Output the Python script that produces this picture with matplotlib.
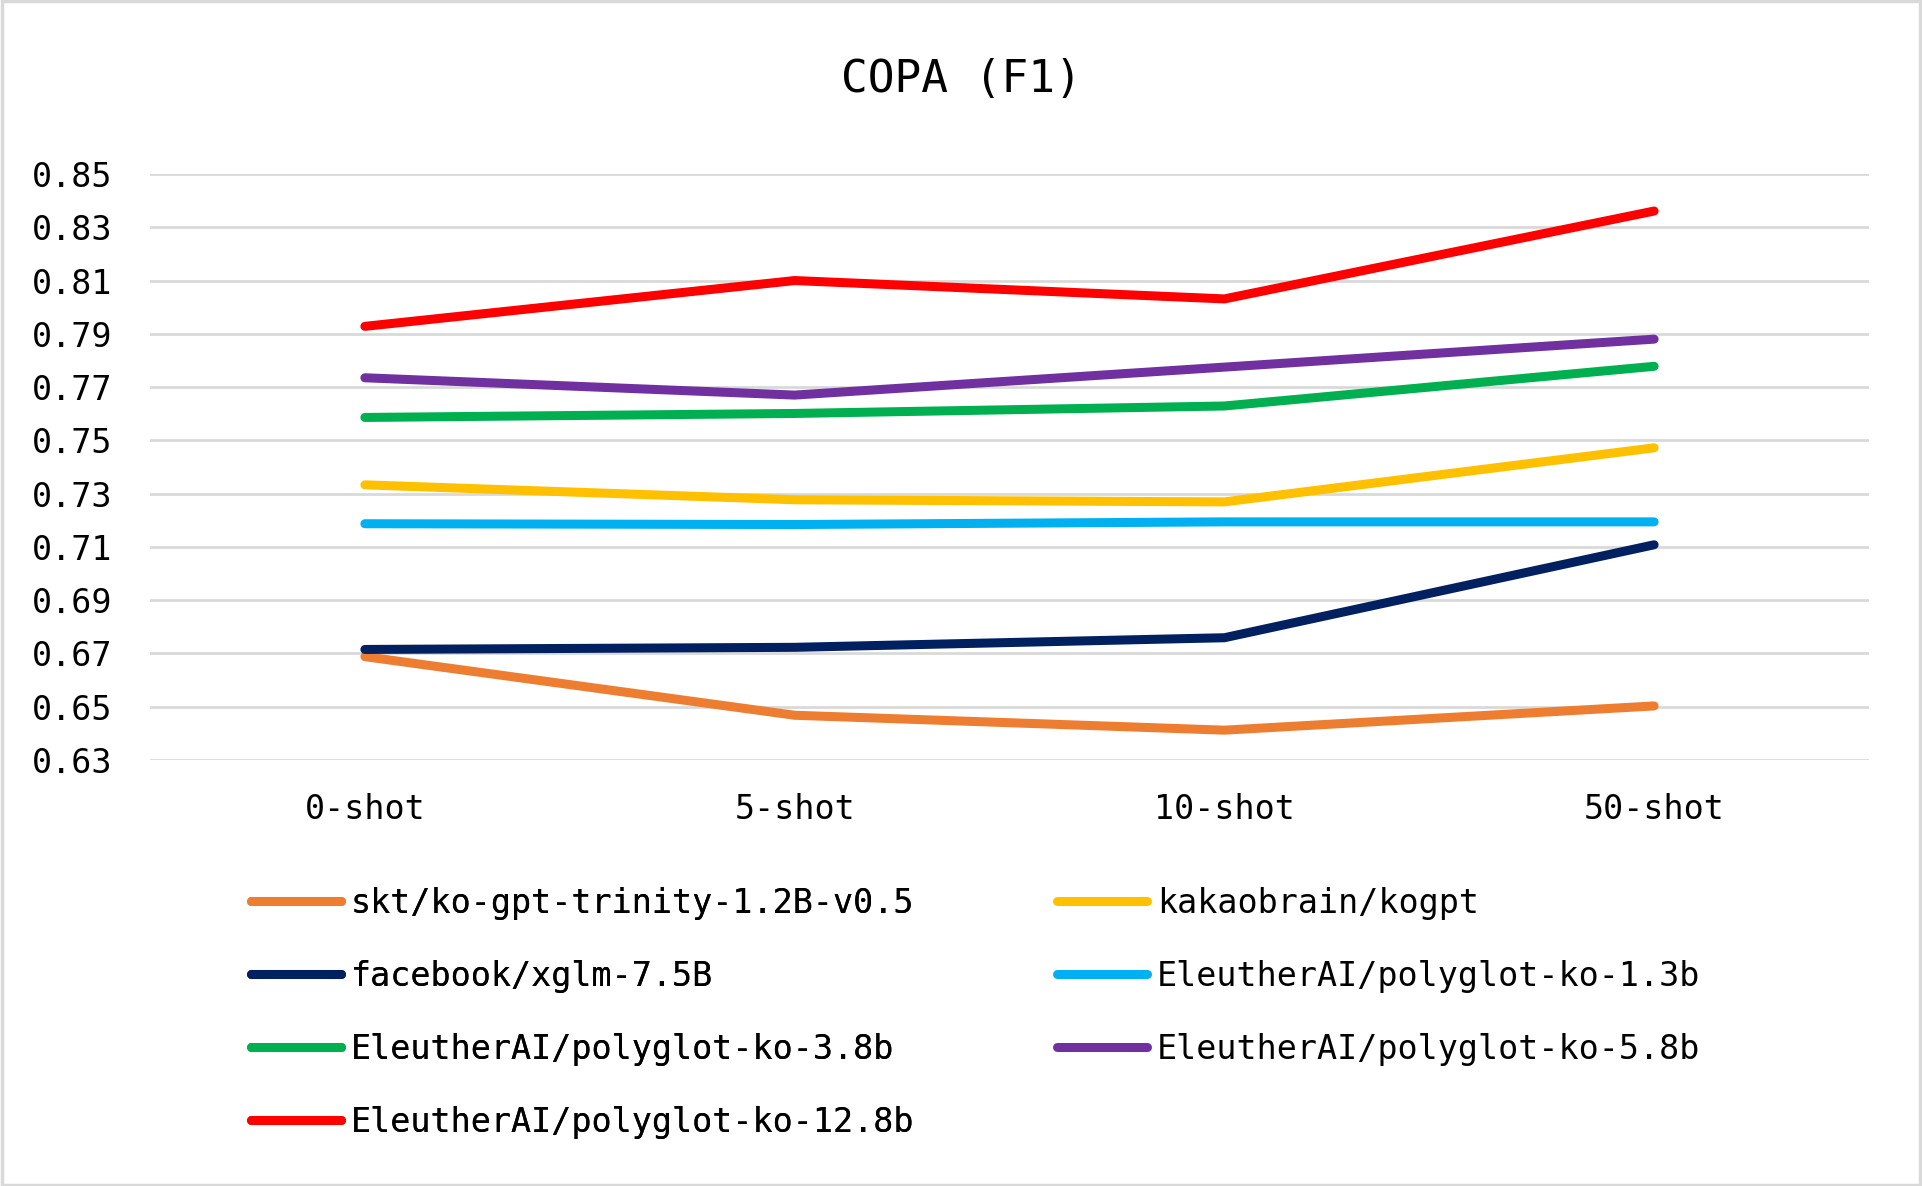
import matplotlib
matplotlib.use("Agg")
import matplotlib.pyplot as plt
import matplotlib.patches as patches

# Data
shots = ["0-shot", "5-shot", "10-shot", "50-shot"]
skt_trinity = [0.6688, 0.6468, 0.6412, 0.6503]
kakao_kogpt = [0.7333, 0.7277, 0.7269, 0.7472]
fb_xglm = [0.6715, 0.6723, 0.6759, 0.7108]
polyglot_1_3b = [0.7187, 0.7184, 0.7194, 0.7194]
polyglot_3_8b = [0.7586, 0.7601, 0.7629, 0.7778]
polyglot_5_8b = [0.7735, 0.7670, 0.7775, 0.7880]
polyglot_12_8b = [0.7928, 0.8100, 0.8031, 0.8361]

names = ["skt/ko-gpt-trinity-1.2B-v0.5", "kakaobrain/kogpt", "facebook/xglm-7.5B",
         "EleutherAI/polyglot-ko-1.3b", "EleutherAI/polyglot-ko-3.8b",
         "EleutherAI/polyglot-ko-5.8b", "EleutherAI/polyglot-ko-12.8b"]
series = [skt_trinity, kakao_kogpt, fb_xglm, polyglot_1_3b,
          polyglot_3_8b, polyglot_5_8b, polyglot_12_8b]
colors = ["#ED7D31", "#FFC000", "#002060", "#00B0F0", "#00B050", "#7030A0", "#FF0000"]

yticks = [0.63, 0.65, 0.67, 0.69, 0.71, 0.73, 0.75, 0.77, 0.79, 0.81, 0.83, 0.85]

plt.rcParams['font.family'] = ['DejaVu Sans Mono']

fig = plt.figure(figsize=(19.22, 11.86), dpi=100)
ax = fig.add_axes([150/1922, 1 - 760/1186, (1869 - 150)/1922, (760 - 174)/1186])

lines = {}
for name, vals, c in zip(names, series, colors):
    ln, = ax.plot(range(len(shots)), vals, color=c, linewidth=6.5,
                  solid_capstyle='round', solid_joinstyle='round', label=name)
    lines[name] = ln

ax.set_xlim(-0.5, len(shots) - 0.5)
ax.set_ylim(0.63, 0.85)
ax.set_yticks(yticks)
ax.set_yticklabels([f"{v:.2f}" for v in yticks])
ax.set_xticks(range(len(shots)))
ax.set_xticklabels(shots)
ax.tick_params(axis='both', length=0, labelsize=24, colors='black')
ax.tick_params(axis='y', pad=27)
ax.tick_params(axis='x', pad=24)
ax.grid(axis='y', color='#d9d9d9', linewidth=2)
ax.set_axisbelow(True)
for s in ax.spines.values():
    s.set_visible(False)

fig.text(0.5, 1 - 80/1186, "COPA (F1)", ha='center', va='center', fontsize=32)

# legend in two columns, placed like the original
col1 = [names[0], names[2], names[4], names[6]]
col2 = [names[1], names[3], names[5]]
top = 1 - 887/1186
leg_kw = dict(loc='upper left', frameon=False, fontsize=24, handlelength=2.7,
              handletextpad=0.3, labelspacing=1.2, borderpad=0, borderaxespad=0)
leg1 = fig.legend([lines[n] for n in col1], col1, bbox_to_anchor=(251/1922, top), **leg_kw)
leg2 = fig.legend([lines[n] for n in col2], col2, bbox_to_anchor=(1057/1922, top), **leg_kw)
fig.add_artist(leg1)

# light grey frame around the whole chart
fig.patches.append(patches.Rectangle((0.001, 0.001), 0.998, 0.998, transform=fig.transFigure,
                                     fill=False, edgecolor='#d9d9d9', linewidth=2.5))

fig.savefig("out.png", dpi=100)
